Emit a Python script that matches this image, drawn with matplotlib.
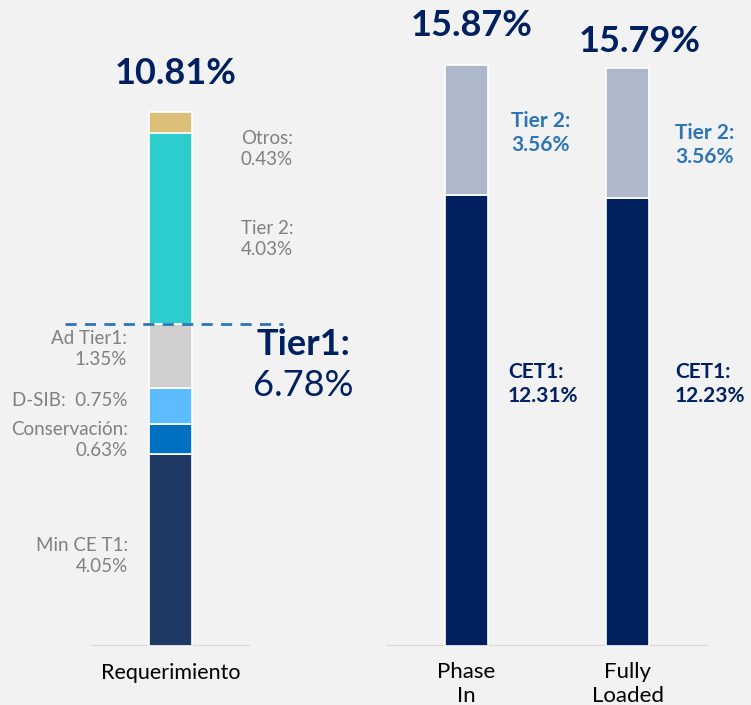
import matplotlib

matplotlib.use("Agg")
import matplotlib.pyplot as plt

# capital requirement build-up (left) vs. actual ratios (right), in %
req_parts = ["Min CE T1", "Conservación", "D-SIB", "Ad Tier1", "Tier 2", "Otros"]
req_values = [4.05, 0.63, 0.75, 1.35, 4.03, 0.43]
req_total = 10.81
tier1_req = 6.78

ratio_bars = ["Phase\nIn", "Fully\nLoaded"]
cet1_values = [12.31, 12.23]
tier2_values = [3.56, 3.56]
ratio_totals = [15.87, 15.79]

BG = "#f2f2f2"
NAVY = "#002060"
GRAY_TXT = "#808080"
BLUE_TXT = "#2e75b6"
req_colors = ["#203864", "#0070c0", "#5bbdff", "#d0cece", "#2ecdcd", "#dbbf79"]

plt.rcParams["font.family"] = ["Lato", "DejaVu Sans"]

W, H = 751, 705
fig = plt.figure(figsize=(W / 100, H / 100), dpi=100, facecolor=BG)


def fx(px):
    return px / W


def fy(py):
    return 1 - py / H


base_px = 646
ax_l = fig.add_axes((fx(91), fy(base_px), fx(159), base_px / H))
ax_r = fig.add_axes((fx(386), fy(base_px), fx(322), base_px / H))
ax_l.set_ylim(0, base_px / 47.5)
ax_l.set_xlim(-0.5, 0.5)
ax_r.set_ylim(0, base_px / 36.6)
ax_r.set_xlim(-0.5, 1.5)

for ax in (ax_l, ax_r):
    ax.set_facecolor("none")
    for s in ax.spines.values():
        s.set_visible(False)
    ax.set_xticks([])
    ax.set_yticks([])
    ax.axhline(0, color="#d9d9d9", lw=1.6, zorder=1)

# left stacked bar
bottom = 0.0
for name, v, c in zip(req_parts, req_values, req_colors):
    ax_l.bar(0, v, bottom=bottom, width=0.27, color=c, edgecolor="white",
             linewidth=1.2, zorder=2)
    bottom += v

ax_l.plot([-0.664, 0.708], [tier1_req, tier1_req], color=BLUE_TXT, lw=2,
          ls=(0, (4, 3)), clip_on=False, zorder=3)

# right stacked bars
xs = range(len(ratio_bars))
ax_r.bar(xs, cet1_values, width=0.267, color=NAVY, edgecolor="white",
         linewidth=1.2, zorder=2)
ax_r.bar(xs, tier2_values, bottom=cet1_values, width=0.267, color="#adb9ca",
         edgecolor="white", linewidth=1.2, zorder=2)

# texts
fig.text(fx(176), fy(73), f"{req_total:.2f}%", ha="center", va="center",
         fontsize=26, fontweight="bold", color=NAVY)

lbl = dict(fontsize=13.5, color=GRAY_TXT, linespacing=1.3)
v = dict(zip(req_parts, req_values))
fig.text(fx(267), fy(149), f"Otros:\n{v['Otros']:.2f}%", ha="center", va="center", **lbl)
fig.text(fx(267), fy(239), f"Tier 2:\n{v['Tier 2']:.2f}%", ha="center", va="center", **lbl)
fig.text(fx(127), fy(349), f"Ad Tier1:\n{v['Ad Tier1']:.2f}%", ha="right", va="center", **lbl)
fig.text(fx(127), fy(400), f"D-SIB:  {v['D-SIB']:.2f}%", ha="right", va="center", **lbl)
fig.text(fx(128), fy(440), f"Conservación:\n{v['Conservación']:.2f}%", ha="right", va="center", **lbl)
fig.text(fx(128), fy(556), f"Min CE T1:\n{v['Min CE T1']:.2f}%", ha="right", va="center", **lbl)

fig.text(fx(303), fy(345), "Tier1:", ha="center", va="center", fontsize=26,
         fontweight="bold", color=NAVY)
fig.text(fx(303), fy(386), f"{tier1_req:.2f}%", ha="center", va="center",
         fontsize=26, color=NAVY)

fig.text(fx(170.5), fy(673), "Requerimiento", ha="center", va="center",
         fontsize=15.5, color="black")

tot_xy = [(471.5, 25), (640, 42)]
t2_xy = [(511, 133), (675, 145)]
cet_xy = [(508, 384), (675, 384)]
for i, lab in enumerate(ratio_bars):
    fig.text(fx(tot_xy[i][0]), fy(tot_xy[i][1]), f"{ratio_totals[i]:.2f}%",
             ha="center", va="center", fontsize=26, fontweight="bold", color=NAVY)
    fig.text(fx(t2_xy[i][0]), fy(t2_xy[i][1]), f"Tier 2:\n{tier2_values[i]:.2f}%",
             ha="left", va="center", fontsize=15, fontweight="bold", color=BLUE_TXT,
             linespacing=1.2)
    fig.text(fx(cet_xy[i][0]), fy(cet_xy[i][1]), f"CET1:\n{cet1_values[i]:.2f}%",
             ha="left", va="center", fontsize=15, fontweight="bold", color=NAVY,
             linespacing=1.2)
    fig.text(fx(466.5 + 161 * i), fy(684), lab, ha="center", va="center",
             fontsize=16, color="black", linespacing=1.2)

fig.savefig("out.png", dpi=100, facecolor=BG)
